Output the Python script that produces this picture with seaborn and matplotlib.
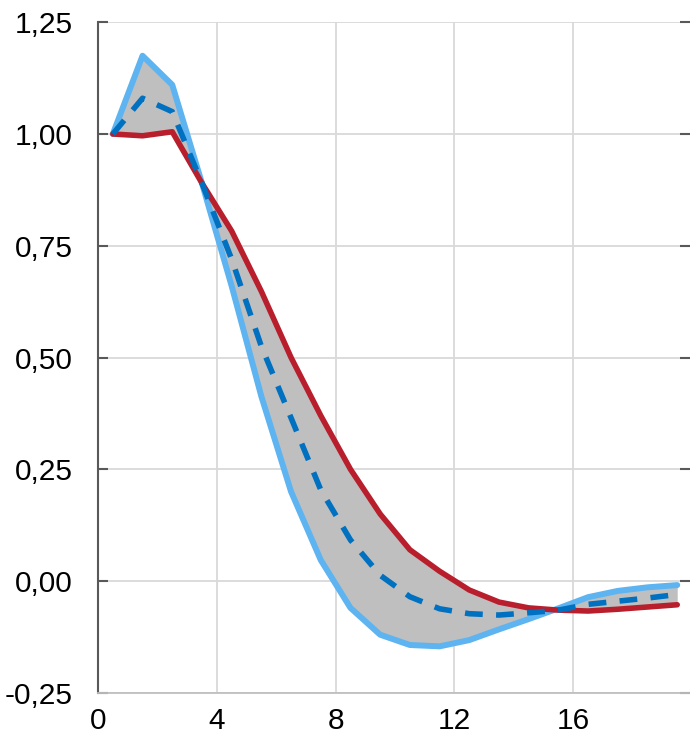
import numpy as np
import pandas as pd
import seaborn as sns
import matplotlib.pyplot as plt
from matplotlib.ticker import FuncFormatter

# quarters after the shock (plotted at mid-category)
quarter = np.arange(20) + 0.5
upper_blue = [1.00, 1.175, 1.11, 0.89, 0.66, 0.413, 0.20, 0.047, -0.06, -0.12,
              -0.143, -0.146, -0.132, -0.108, -0.085, -0.061, -0.036, -0.022, -0.014, -0.009]
red_line = [1.00, 0.996, 1.005, 0.89, 0.783, 0.648, 0.50, 0.37, 0.25, 0.15,
            0.07, 0.022, -0.02, -0.047, -0.06, -0.065, -0.067, -0.063, -0.058, -0.053]
median_dash = [1.00, 1.08, 1.05, 0.89, 0.72, 0.525, 0.365, 0.204, 0.092, 0.013,
               -0.035, -0.062, -0.073, -0.076, -0.071, -0.065, -0.052, -0.045, -0.038, -0.03]

y_ticks = [-0.25, 0.0, 0.25, 0.5, 0.75, 1.0, 1.25]
x_ticks = [0, 4, 8, 12, 16]

df = pd.DataFrame({'q': quarter, 'blue': upper_blue, 'red': red_line, 'med': median_dash})

sns.set_style('white')
plt.rcParams['font.family'] = ['Liberation Sans Narrow', 'Liberation Sans', 'DejaVu Sans']
plt.rcParams['font.size'] = 21.5

fig = plt.figure(figsize=(6.9, 7.41), dpi=100)
ax = fig.add_axes([0.142, 0.065, 0.858, 0.905])

ax.fill_between(df['q'], df['blue'], df['red'], color='#bfbfbf', lw=0, zorder=1)
sns.lineplot(data=df, x='q', y='blue', ax=ax, color='#5db4f0', lw=4.3, zorder=3)
sns.lineplot(data=df, x='q', y='red', ax=ax, color='#b81e2b', lw=4.0, zorder=4)
sns.lineplot(data=df, x='q', y='med', ax=ax, color='#0070c0', lw=4.0, zorder=5)
ax.lines[-1].set_dashes((3.2, 2.4))
ax.lines[-1].set_dash_capstyle('butt')

ax.set_xlim(0, 19.93)
ax.set_ylim(-0.25, 1.25)
ax.set_xticks(x_ticks)
ax.set_yticks(y_ticks)
ax.yaxis.set_major_formatter(FuncFormatter(lambda v, p: f'{v:.2f}'.replace('.', ',')))
ax.set_xlabel('')
ax.set_ylabel('')

ax.grid(True, color='#d9d9d9', lw=1.3, zorder=0)
ax.set_axisbelow(True)
for s in ['top', 'right']:
    ax.spines[s].set_visible(False)
ax.spines['left'].set_color('#595959')
ax.spines['left'].set_linewidth(1.5)
ax.spines['bottom'].set_color('#bfbfbf')
ax.spines['bottom'].set_linewidth(1.3)

ax.tick_params(axis='y', which='major', direction='in', length=7, width=1.5,
               color='#595959', left=True, right=True, pad=18, labelcolor='black')
ax.tick_params(axis='x', which='major', length=0, pad=10, labelcolor='black')

fig.savefig('out.png', dpi=100)
